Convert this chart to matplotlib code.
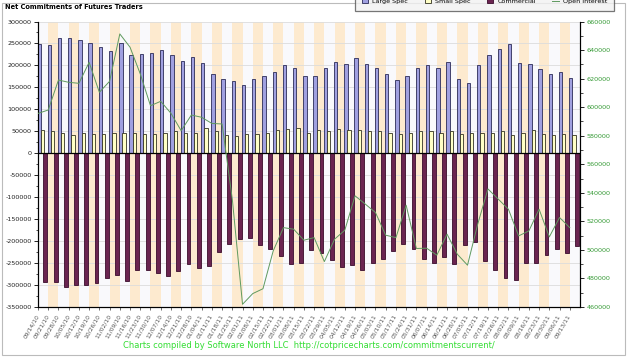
import matplotlib
matplotlib.use("Agg")
import matplotlib.pyplot as plt
import matplotlib.ticker as mticker
from matplotlib.patches import Patch, Rectangle
from matplotlib.lines import Line2D
import numpy as np

# ── Data ──────────────────────────────────────────────────────────────────────
dates = ["09/14/10", "09/21/10", "09/28/10", "10/05/10", "10/12/10", "10/19/10",
         "10/26/10", "11/02/10", "11/09/10", "11/16/10", "11/23/10", "11/30/10",
         "12/07/10", "12/14/10", "12/21/10", "12/28/10", "01/04/11", "01/11/11",
         "01/18/11", "01/25/11", "02/01/11", "02/08/11", "02/15/11", "02/22/11",
         "03/01/11", "03/08/11", "03/15/11", "03/22/11", "03/29/11", "04/05/11",
         "04/12/11", "04/19/11", "04/26/11", "05/03/11", "05/10/11", "05/17/11",
         "05/24/11", "05/31/11", "06/07/11", "06/14/11", "06/21/11", "06/28/11",
         "07/05/11", "07/12/11", "07/19/11", "07/26/11", "08/02/11", "08/09/11",
         "08/16/11", "08/23/11", "08/30/11", "09/06/11", "09/13/11"]

large_spec = [248000, 246000, 262000, 263000, 259000, 251000, 241000, 232000,
              250000, 223000, 225000, 229000, 236000, 223000, 210000, 219000,
              205000, 181000, 168000, 164000, 155000, 170000, 176000, 184000,
              200000, 194000, 177000, 177000, 195000, 208000, 204000, 218000,
              204000, 195000, 180000, 166000, 176000, 195000, 201000, 195000,
              207000, 168000, 161000, 200000, 223000, 238000, 249000, 206000,
              204000, 191000, 181000, 186000, 171000]

small_spec = [52000, 50000, 47000, 42000, 47000, 45000, 45000, 47000, 47000,
              47000, 45000, 45000, 47000, 50000, 47000, 47000, 57000, 50000,
              42000, 39000, 43000, 45000, 47000, 52000, 56000, 58000, 47000,
              52000, 50000, 56000, 54000, 54000, 50000, 50000, 47000, 45000,
              47000, 51000, 51000, 47000, 50000, 45000, 47000, 47000, 47000,
              50000, 42000, 47000, 52000, 45000, 42000, 45000, 42000]

commercial = [-294000, -294000, -304000, -300000, -300000, -295000, -284000,
              -278000, -291000, -265000, -265000, -272000, -280000, -268000,
              -253000, -261000, -256000, -225000, -206000, -196000, -193000,
              -209000, -218000, -234000, -251000, -249000, -221000, -226000,
              -242000, -259000, -255000, -266000, -250000, -241000, -223000,
              -206000, -217000, -241000, -249000, -237000, -251000, -209000,
              -202000, -245000, -265000, -284000, -289000, -249000, -249000,
              -231000, -218000, -227000, -211000]

open_interest = [595600, 598000, 619000, 617400, 616700, 631400, 610400, 618100,
                 651300, 642000, 623300, 601000, 604100, 595700, 583500, 594500,
                 592900, 588600, 588200, 535600, 461900, 469400, 472800, 499300,
                 515600, 514500, 506800, 508600, 491800, 507500, 513800, 537900,
                 532100, 526200, 510300, 508600, 531300, 501000, 501200, 496300,
                 511000, 497000, 489300, 518100, 542700, 535600, 528500, 509800,
                 513300, 528500, 509100, 522700, 515600]

# ── Style ─────────────────────────────────────────────────────────────────────
BLUE     = "#a0a0e0"
BLUE_E   = "#2b2b58"
YELLOW   = "#ffffc6"
YELLOW_E = "#333322"
PLUM     = "#6a2450"
PLUM_E   = "#3a0c2c"
GREEN    = "#5f9a5f"
PEACH    = "#fdeacf"
W, H = 628, 358

fig = plt.figure(figsize=(W / 100, H / 100), dpi=100)
fig.patch.set_facecolor("white")
ax = fig.add_axes([38 / W, 1 - 307 / H, 542 / W, 285.5 / H])
ax.set_facecolor("#f9f9fc")

n = len(dates)
x = np.arange(n)

for i in range(1, n, 2):
    ax.axvspan(i, i + 1, color=PEACH, lw=0, zorder=0)

ax.bar(x + 0.10, large_spec, 0.33, color=BLUE, edgecolor=BLUE_E, lw=0.6, zorder=3)
ax.bar(x + 0.42, small_spec, 0.32, color=YELLOW, edgecolor=YELLOW_E, lw=0.6, zorder=3)
ax.bar(x + 0.72, commercial, 0.38, color=PLUM, edgecolor=PLUM_E, lw=0.6, zorder=3)
ax.axhline(0, color="black", lw=0.9, zorder=4)

ax.set_xlim(0, n)
ax.set_ylim(-350000, 300000)
ax.set_axisbelow(True)
ax.yaxis.grid(True, color="#dcdcdc", lw=0.6)

ax.set_yticks(np.arange(-350000, 300001, 50000))
ax.yaxis.set_minor_locator(mticker.MultipleLocator(25000))
ax.yaxis.set_major_formatter(mticker.FuncFormatter(lambda v, p: f"{int(v)}"))
ax.tick_params(axis="y", which="major", labelsize=4.6, length=3, width=0.6,
               pad=1.5, labelcolor="#222222")
ax.tick_params(axis="y", which="minor", length=1.8, width=0.5)

ax.set_xticks(x)
ax.set_xticklabels(dates, rotation=60, ha="right", va="center",
                   rotation_mode="anchor")
ax.tick_params(axis="x", length=2.5, width=0.5, labelsize=4.3, pad=3,
               labelcolor="#555555", color="#333333")

for s in ("left", "right", "bottom"):
    ax.spines[s].set_linewidth(0.8)
ax.spines["top"].set_visible(False)

# ── Open interest on right axis ───────────────────────────────────────────────
ax2 = ax.twinx()
ax2.plot(x, open_interest, color=GREEN, lw=0.7, zorder=5)
ax2.set_ylim(460000, 660000)
ax2.set_yticks(np.arange(460000, 660001, 20000))
ax2.yaxis.set_minor_locator(mticker.MultipleLocator(10000))
ax2.tick_params(axis="y", which="major", labelsize=4.6, length=3, width=0.6,
                pad=2, labelcolor="#339933")
ax2.tick_params(axis="y", which="minor", length=1.8, width=0.5)
ax2.spines["top"].set_visible(False)
ax2.spines["right"].set_linewidth(0.8)

# ── Texts, legend, frame ──────────────────────────────────────────────────────
fig.text(5 / W, 1 - 7 / H, "Net Commitments of Futures Traders",
         fontsize=4.8, weight="bold", va="center", ha="left")
fig.text(309 / W, 1 - 345 / H,
         "Charts compiled by Software North LLC  http://cotpricecharts.com/commitmentscurrent/",
         fontsize=6, color="#33dd33", ha="center", va="center")

handles = [Patch(facecolor=BLUE, edgecolor=BLUE_E, lw=0.6),
           Patch(facecolor=YELLOW, edgecolor=YELLOW_E, lw=0.6),
           Patch(facecolor=PLUM, edgecolor=PLUM_E, lw=0.6),
           Line2D([], [], color=GREEN, lw=0.7)]
leg = fig.legend(handles, ["Large Spec", "Small Spec", "Commercial", "Open Interest"],
                 ncol=4, loc="lower left", bbox_to_anchor=(355 / W, 1 - 11 / H),
                 fontsize=4.6, frameon=True, fancybox=False, borderpad=1.1,
                 handlelength=1.0, handleheight=0.7, columnspacing=2.6,
                 handletextpad=0.6, borderaxespad=0)
leg.get_frame().set_facecolor("#f2f2f2")
leg.get_frame().set_edgecolor("#555555")
leg.get_frame().set_linewidth(0.9)

fig.patches.append(Rectangle((2 / W, 3 / H), 623 / W, 352 / H, transform=fig.transFigure,
                             fill=False, edgecolor="#bbbbbb", lw=0.8))

fig.savefig("out.png", dpi=100)
